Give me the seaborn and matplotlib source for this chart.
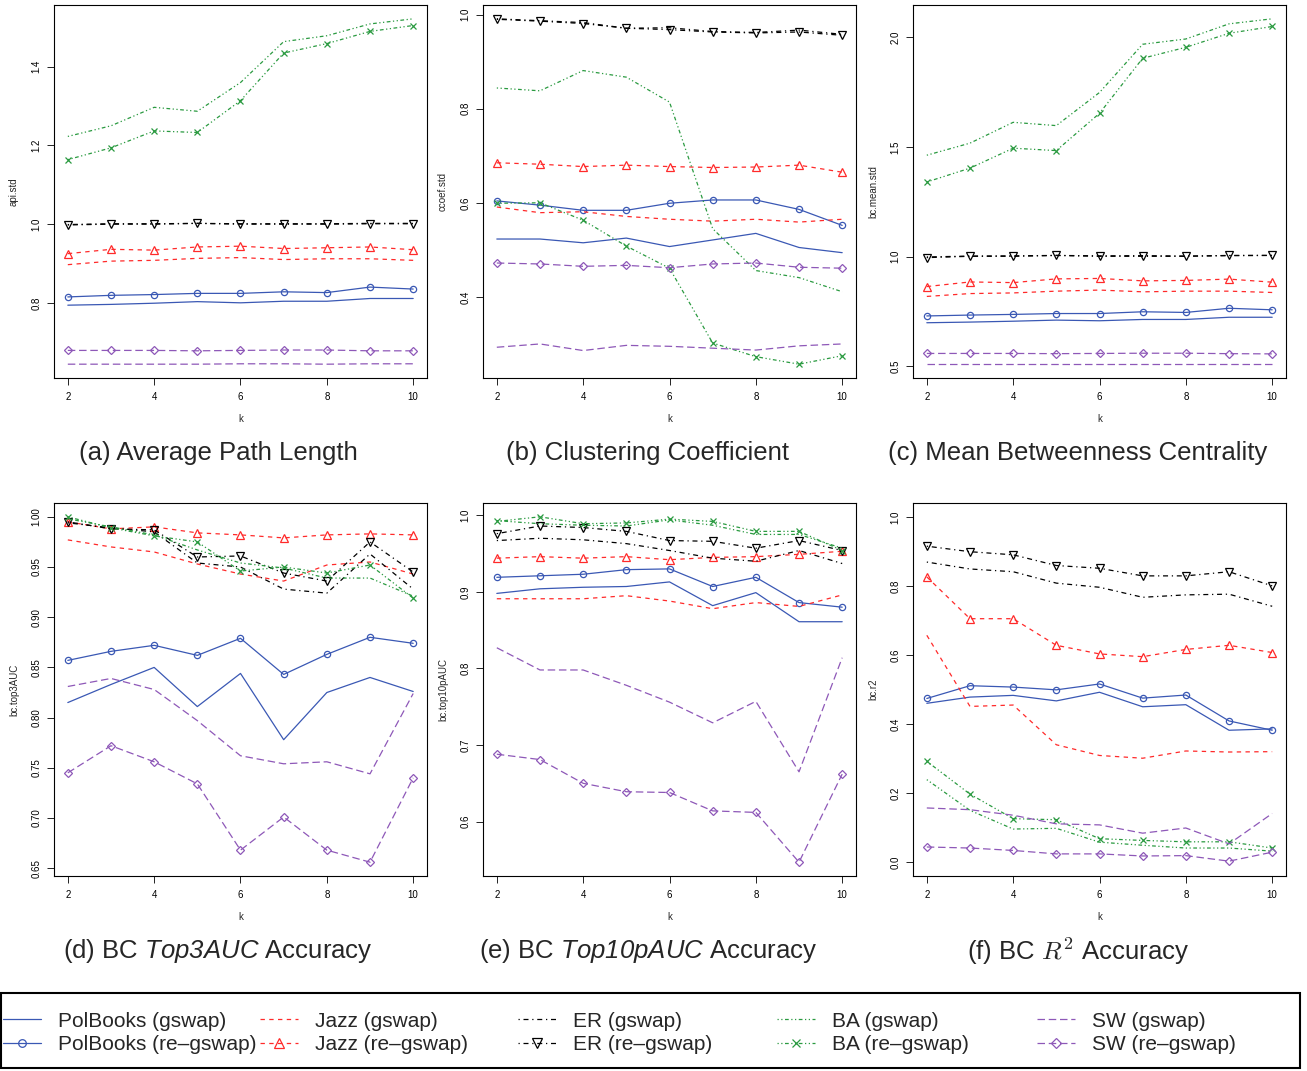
import matplotlib
matplotlib.use('Agg')
import matplotlib.pyplot as plt
import seaborn as sns
from matplotlib.lines import Line2D
from matplotlib.patches import Rectangle

# k values (x axis, shared by all panels)
k = [2, 3, 4, 5, 6, 7, 8, 9, 10]

networks = ['PolBooks', 'Jazz', 'ER', 'BA', 'SW']

# (a) average path length std
apl_gswap = {
    'PolBooks': [0.794, 0.796, 0.799, 0.803, 0.800, 0.804, 0.804, 0.811, 0.811],
    'Jazz':     [0.897, 0.906, 0.908, 0.913, 0.915, 0.910, 0.912, 0.912, 0.908],
    'ER':       [0.999, 1.001, 1.001, 1.002, 1.001, 1.001, 1.001, 1.002, 1.002],
    'BA':       [1.223, 1.250, 1.297, 1.287, 1.360, 1.464, 1.479, 1.509, 1.522],
    'SW':       [0.644, 0.644, 0.644, 0.644, 0.645, 0.645, 0.644, 0.645, 0.645],
}
apl_regswap = {
    'PolBooks': [0.815, 0.819, 0.821, 0.824, 0.824, 0.828, 0.826, 0.840, 0.835],
    'Jazz':     [0.925, 0.936, 0.934, 0.942, 0.944, 0.938, 0.940, 0.942, 0.935],
    'ER':       [0.998, 1.000, 1.000, 1.002, 1.000, 1.000, 1.000, 1.001, 1.001],
    'BA':       [1.164, 1.194, 1.237, 1.233, 1.314, 1.435, 1.459, 1.490, 1.505],
    'SW':       [0.679, 0.679, 0.679, 0.678, 0.679, 0.680, 0.680, 0.678, 0.678],
}

# (b) clustering coefficient std
cc_gswap = {
    'PolBooks': [0.523, 0.523, 0.515, 0.525, 0.507, 0.521, 0.535, 0.505, 0.494],
    'Jazz':     [0.591, 0.579, 0.581, 0.571, 0.565, 0.561, 0.565, 0.559, 0.565],
    'ER':       [0.991, 0.987, 0.983, 0.971, 0.972, 0.964, 0.962, 0.967, 0.958],
    'BA':       [0.844, 0.838, 0.881, 0.867, 0.814, 0.545, 0.456, 0.441, 0.411],
    'SW':       [0.293, 0.300, 0.286, 0.297, 0.295, 0.291, 0.287, 0.296, 0.300],
}
cc_regswap = {
    'PolBooks': [0.604, 0.595, 0.584, 0.584, 0.599, 0.606, 0.606, 0.586, 0.552],
    'Jazz':     [0.685, 0.682, 0.677, 0.680, 0.677, 0.675, 0.676, 0.680, 0.665],
    'ER':       [0.990, 0.986, 0.981, 0.971, 0.968, 0.963, 0.961, 0.963, 0.956],
    'BA':       [0.599, 0.600, 0.563, 0.508, 0.461, 0.302, 0.273, 0.257, 0.275],
    'SW':       [0.472, 0.470, 0.465, 0.467, 0.462, 0.470, 0.472, 0.463, 0.461],
}

# (c) mean betweenness centrality std
bcm_gswap = {
    'PolBooks': [0.698, 0.701, 0.705, 0.710, 0.707, 0.713, 0.713, 0.723, 0.723],
    'Jazz':     [0.818, 0.831, 0.834, 0.842, 0.847, 0.839, 0.842, 0.842, 0.836],
    'ER':       [0.998, 1.002, 1.003, 1.005, 1.003, 1.004, 1.002, 1.004, 1.005],
    'BA':       [1.462, 1.517, 1.612, 1.597, 1.748, 1.968, 1.992, 2.061, 2.084],
    'SW':       [0.509, 0.509, 0.509, 0.509, 0.509, 0.509, 0.509, 0.509, 0.509],
}
bcm_regswap = {
    'PolBooks': [0.729, 0.733, 0.736, 0.740, 0.740, 0.748, 0.745, 0.764, 0.757],
    'Jazz':     [0.863, 0.884, 0.881, 0.898, 0.900, 0.889, 0.891, 0.897, 0.883],
    'ER':       [0.995, 1.001, 1.001, 1.005, 1.001, 1.001, 1.001, 1.005, 1.005],
    'BA':       [1.340, 1.403, 1.494, 1.483, 1.653, 1.904, 1.954, 2.018, 2.049],
    'SW':       [0.558, 0.558, 0.558, 0.557, 0.558, 0.559, 0.559, 0.557, 0.556],
}

# (d) BC top3AUC
top3_gswap = {
    'PolBooks': [0.815, 0.833, 0.850, 0.811, 0.844, 0.778, 0.825, 0.840, 0.826],
    'Jazz':     [0.977, 0.970, 0.965, 0.953, 0.943, 0.936, 0.952, 0.955, 0.943],
    'ER':       [0.994, 0.989, 0.985, 0.954, 0.950, 0.928, 0.924, 0.963, 0.928],
    'BA':       [0.998, 0.990, 0.982, 0.967, 0.954, 0.949, 0.939, 0.939, 0.921],
    'SW':       [0.831, 0.839, 0.828, 0.797, 0.762, 0.754, 0.756, 0.744, 0.824],
}
top3_regswap = {
    'PolBooks': [0.857, 0.866, 0.872, 0.862, 0.879, 0.843, 0.863, 0.880, 0.874],
    'Jazz':     [0.995, 0.988, 0.990, 0.984, 0.982, 0.979, 0.982, 0.983, 0.982],
    'ER':       [0.995, 0.988, 0.987, 0.960, 0.961, 0.944, 0.936, 0.975, 0.945],
    'BA':       [1.000, 0.989, 0.981, 0.975, 0.946, 0.950, 0.944, 0.952, 0.919],
    'SW':       [0.745, 0.772, 0.756, 0.734, 0.668, 0.701, 0.668, 0.656, 0.740],
}

# (e) BC top10pAUC
top10_gswap = {
    'PolBooks': [0.898, 0.904, 0.906, 0.907, 0.913, 0.882, 0.899, 0.861, 0.861],
    'Jazz':     [0.891, 0.891, 0.891, 0.895, 0.888, 0.878, 0.886, 0.881, 0.896],
    'ER':       [0.967, 0.970, 0.968, 0.963, 0.954, 0.944, 0.940, 0.954, 0.937],
    'BA':       [0.993, 0.989, 0.987, 0.986, 0.994, 0.987, 0.975, 0.975, 0.957],
    'SW':       [0.827, 0.798, 0.798, 0.778, 0.756, 0.729, 0.757, 0.665, 0.814],
}
top10_regswap = {
    'PolBooks': [0.919, 0.921, 0.923, 0.929, 0.930, 0.907, 0.919, 0.886, 0.880],
    'Jazz':     [0.944, 0.946, 0.944, 0.946, 0.942, 0.945, 0.946, 0.949, 0.953],
    'ER':       [0.976, 0.986, 0.984, 0.979, 0.967, 0.966, 0.957, 0.967, 0.954],
    'BA':       [0.992, 0.998, 0.989, 0.990, 0.995, 0.992, 0.979, 0.979, 0.954],
    'SW':       [0.688, 0.681, 0.650, 0.639, 0.638, 0.614, 0.612, 0.547, 0.662],
}

# (f) BC R^2
r2_gswap = {
    'PolBooks': [0.460, 0.478, 0.483, 0.467, 0.492, 0.450, 0.456, 0.382, 0.386],
    'Jazz':     [0.657, 0.451, 0.455, 0.340, 0.309, 0.301, 0.322, 0.319, 0.320],
    'ER':       [0.869, 0.849, 0.841, 0.808, 0.796, 0.767, 0.774, 0.776, 0.741],
    'BA':       [0.239, 0.150, 0.096, 0.098, 0.058, 0.049, 0.041, 0.041, 0.032],
    'SW':       [0.157, 0.152, 0.136, 0.111, 0.108, 0.084, 0.099, 0.053, 0.141],
}
r2_regswap = {
    'PolBooks': [0.474, 0.511, 0.507, 0.499, 0.516, 0.475, 0.484, 0.409, 0.382],
    'Jazz':     [0.826, 0.705, 0.705, 0.628, 0.603, 0.595, 0.616, 0.628, 0.607],
    'ER':       [0.915, 0.899, 0.890, 0.859, 0.851, 0.829, 0.829, 0.841, 0.800],
    'BA':       [0.292, 0.197, 0.126, 0.123, 0.068, 0.063, 0.059, 0.059, 0.041],
    'SW':       [0.044, 0.041, 0.034, 0.024, 0.024, 0.018, 0.019, 0.003, 0.029],
}

# styling per network
colors = {'PolBooks': '#3A58B4', 'Jazz': '#FF2A2A', 'ER': '#000000',
          'BA': '#2A9A40', 'SW': '#8E58B8'}
styles = {'PolBooks': '-', 'Jazz': (0, (3.5, 3.5)), 'ER': (0, (1, 3, 4, 3)),
          'BA': (0, (1, 2, 1, 2, 3, 2)), 'SW': (0, (6, 3))}
markers = {'PolBooks': 'o', 'Jazz': '^', 'ER': 'v', 'BA': 'x', 'SW': 'D'}
msizes = {'PolBooks': 4.5, 'Jazz': 5.5, 'ER': 5.5, 'BA': 5, 'SW': 4}

sns.set_theme(style='ticks')
plt.rcParams['font.family'] = ['Liberation Sans', 'DejaVu Sans']
# italic sans for the Top3AUC / Top10pAUC words (digits included)
plt.rcParams['mathtext.fontset'] = 'custom'
plt.rcParams['mathtext.rm'] = 'Liberation Sans:italic'
plt.rcParams['mathtext.it'] = 'Liberation Sans:italic'

W, H = 1307, 1071
fig = plt.figure(figsize=(W / 100, H / 100), dpi=100)

panels = [
    (apl_gswap, apl_regswap, 'api.std', [0.8, 1.0, 1.2, 1.4], '{:.1f}', None),
    (cc_gswap, cc_regswap, 'ccoef.std', [0.4, 0.6, 0.8, 1.0], '{:.1f}', None),
    (bcm_gswap, bcm_regswap, 'bc.mean.std', [0.5, 1.0, 1.5, 2.0], '{:.1f}', None),
    (top3_gswap, top3_regswap, 'bc.top3AUC',
     [0.65, 0.70, 0.75, 0.80, 0.85, 0.90, 0.95, 1.00], '{:.2f}', None),
    (top10_gswap, top10_regswap, 'bc.top10pAUC', [0.6, 0.7, 0.8, 0.9, 1.0], '{:.1f}', None),
    (r2_gswap, r2_regswap, 'bc.r2', [0.0, 0.2, 0.4, 0.6, 0.8, 1.0], '{:.1f}', (-0.04, 1.04)),
]

titles = ['(a) Average Path Length', '(b) Clustering Coefficient',
          '(c) Mean Betweenness Centrality', '(d) BC $\\mathrm{Top3AUC}$ Accuracy',
          '(e) BC $\\mathrm{Top10pAUC}$ Accuracy', '(f) BC $R^2$ Accuracy']

lefts = [54, 483, 913]
tops = [5, 503]
title_x = [218, 648, 1078]
title_y = [453, 951]

for i, (gs, rgs, ylab, yt, fmt, ylim) in enumerate(panels):
    r, c = divmod(i, 3)
    ax = fig.add_axes([lefts[c] / W, 1 - (tops[r] + 373) / H, 373 / W, 373 / H])
    for net in networks:
        sns.lineplot(x=k, y=gs[net], ax=ax, color=colors[net], linestyle=styles[net],
                     lw=0.9, errorbar=None, legend=False)
        sns.lineplot(x=k, y=rgs[net], ax=ax, color=colors[net], linestyle=styles[net],
                     lw=0.9, errorbar=None, legend=False, marker=markers[net],
                     markersize=msizes[net], markerfacecolor='none',
                     markeredgecolor=colors[net], markeredgewidth=0.9)
    ax.set_xlim(1.68, 10.32)
    ax.margins(y=0.04)
    if ylim:
        ax.set_ylim(*ylim)
    ax.set_xticks([2, 4, 6, 8, 10])
    ax.set_yticks(yt)
    ax.set_yticklabels([fmt.format(v) for v in yt], rotation=90, va='center')
    ax.tick_params(axis='both', labelsize=7, length=5, width=0.6, direction='out',
                   color='black', labelcolor='black')
    ax.tick_params(axis='x', pad=5)
    ax.tick_params(axis='y', pad=4)
    for s in ax.spines.values():
        s.set_visible(True)
        s.set_color('black')
        s.set_linewidth(0.8)
    ax.set_xlabel('k', fontsize=7, labelpad=9)
    ax.set_ylabel(ylab, fontsize=7, labelpad=9)
    ax.grid(False)
    fig.text(title_x[c] / W, 1 - title_y[r] / H, titles[i], ha='center', va='center',
             fontsize=18.5, math_fontfamily='cm' if i == 5 else 'custom')

# legend: one column per network, framed by a single box
leg_x = [3, 260, 518, 777, 1037]
for net, x0 in zip(networks, leg_x):
    h1 = Line2D([], [], color=colors[net], linestyle=styles[net], lw=0.9)
    h2 = Line2D([], [], color=colors[net], linestyle=styles[net], lw=0.9,
                marker=markers[net], markersize=msizes[net] + 1, markerfacecolor='none',
                markeredgecolor=colors[net], markeredgewidth=0.9)
    fig.legend(handles=[h1, h2], labels=[f'{net} (gswap)', f'{net} (re\u2013gswap)'],
               loc='center left', bbox_to_anchor=(x0 / W, 1 - 1033 / H), frameon=False,
               fontsize=15, handlelength=1.8, handletextpad=0.85, labelspacing=0.22,
               borderpad=0, borderaxespad=0, numpoints=1)

fig.patches.append(Rectangle((1 / W, 1 - 1068 / H), 1299 / W, 75 / H, fill=False,
                             edgecolor='black', lw=1.5, transform=fig.transFigure,
                             figure=fig))

fig.savefig('out.png', dpi=100)
